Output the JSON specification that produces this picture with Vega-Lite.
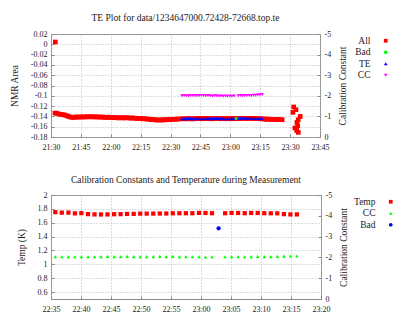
{
  "$schema": "https://vega.github.io/schema/vega-lite/v6.json",
  "padding": {"left": 8, "top": 12, "right": 0, "bottom": 0},
  "background": "white",
  "spacing": 22,
  "align": "none",
  "config": {
    "font": "Liberation Serif",
    "view": {"stroke": "#888888", "strokeWidth": 1},
    "axis": {
      "domain": false, "tickColor": "#888888", "tickSize": -3, "labelPadding": 7,
      "labelFont": "Liberation Serif", "labelFontSize": 8, "labelColor": "#222222",
      "titleFont": "Liberation Serif", "titleFontSize": 9.5, "titleFontWeight": "normal", "titleColor": "#222222",
      "gridColor": "#bbbbbb", "gridDash": [1, 2], "titlePadding": 11
    },
    "axisX": {"labelPadding": 9, "labelFlush": false},
    "legend": {
      "labelFont": "Liberation Serif", "labelFontSize": 9.5, "labelColor": "#222222", "symbolSize": 14,
      "labelAlign": "right", "labelOffset": -20, "rowPadding": 0.5, "padding": 2, "symbolStrokeWidth": 0
    },
    "title": {"font": "Liberation Serif", "fontSize": 9.5, "fontWeight": "normal", "color": "#222222"}
  },
  "resolve": {
    "scale": {"x": "independent", "y": "independent", "color": "independent", "shape": "independent"},
    "legend": {"color": "independent", "shape": "independent"}
  },
  "vconcat": [
    {
      "title": {"text": "TE Plot for data/1234647000.72428-72668.top.te", "offset": 8},
      "width": 269,
      "height": 103,
      "data": {
        "values": [
          {"t": "2009-02-14T21:32:00", "s": "All", "v": -0.1335},
          {"t": "2009-02-14T21:33:00", "s": "All", "v": -0.134},
          {"t": "2009-02-14T21:34:00", "s": "All", "v": -0.1355},
          {"t": "2009-02-14T21:35:00", "s": "All", "v": -0.136},
          {"t": "2009-02-14T21:36:00", "s": "All", "v": -0.1365},
          {"t": "2009-02-14T21:37:00", "s": "All", "v": -0.1375},
          {"t": "2009-02-14T21:38:00", "s": "All", "v": -0.139},
          {"t": "2009-02-14T21:39:00", "s": "All", "v": -0.1405},
          {"t": "2009-02-14T21:40:00", "s": "All", "v": -0.1415},
          {"t": "2009-02-14T21:41:00", "s": "All", "v": -0.142},
          {"t": "2009-02-14T21:42:00", "s": "All", "v": -0.1415},
          {"t": "2009-02-14T21:43:00", "s": "All", "v": -0.141},
          {"t": "2009-02-14T21:44:00", "s": "All", "v": -0.1415},
          {"t": "2009-02-14T21:45:00", "s": "All", "v": -0.141},
          {"t": "2009-02-14T21:46:00", "s": "All", "v": -0.141},
          {"t": "2009-02-14T21:47:00", "s": "All", "v": -0.1412},
          {"t": "2009-02-14T21:48:00", "s": "All", "v": -0.1405},
          {"t": "2009-02-14T21:49:00", "s": "All", "v": -0.141},
          {"t": "2009-02-14T21:50:00", "s": "All", "v": -0.1405},
          {"t": "2009-02-14T21:51:00", "s": "All", "v": -0.141},
          {"t": "2009-02-14T21:52:00", "s": "All", "v": -0.1408},
          {"t": "2009-02-14T21:53:00", "s": "All", "v": -0.1412},
          {"t": "2009-02-14T21:54:00", "s": "All", "v": -0.141},
          {"t": "2009-02-14T21:55:00", "s": "All", "v": -0.1415},
          {"t": "2009-02-14T21:56:00", "s": "All", "v": -0.1412},
          {"t": "2009-02-14T21:57:00", "s": "All", "v": -0.1418},
          {"t": "2009-02-14T21:58:00", "s": "All", "v": -0.142},
          {"t": "2009-02-14T21:59:00", "s": "All", "v": -0.1415},
          {"t": "2009-02-14T22:00:00", "s": "All", "v": -0.142},
          {"t": "2009-02-14T22:01:00", "s": "All", "v": -0.1425},
          {"t": "2009-02-14T22:02:00", "s": "All", "v": -0.142},
          {"t": "2009-02-14T22:03:00", "s": "All", "v": -0.1425},
          {"t": "2009-02-14T22:04:00", "s": "All", "v": -0.143},
          {"t": "2009-02-14T22:05:00", "s": "All", "v": -0.1425},
          {"t": "2009-02-14T22:06:00", "s": "All", "v": -0.1428},
          {"t": "2009-02-14T22:07:00", "s": "All", "v": -0.143},
          {"t": "2009-02-14T22:08:00", "s": "All", "v": -0.1425},
          {"t": "2009-02-14T22:09:00", "s": "All", "v": -0.143},
          {"t": "2009-02-14T22:10:00", "s": "All", "v": -0.1432},
          {"t": "2009-02-14T22:11:00", "s": "All", "v": -0.143},
          {"t": "2009-02-14T22:12:00", "s": "All", "v": -0.1435},
          {"t": "2009-02-14T22:13:00", "s": "All", "v": -0.144},
          {"t": "2009-02-14T22:14:00", "s": "All", "v": -0.1438},
          {"t": "2009-02-14T22:15:00", "s": "All", "v": -0.1442},
          {"t": "2009-02-14T22:16:00", "s": "All", "v": -0.1445},
          {"t": "2009-02-14T22:17:00", "s": "All", "v": -0.1448},
          {"t": "2009-02-14T22:18:00", "s": "All", "v": -0.145},
          {"t": "2009-02-14T22:19:00", "s": "All", "v": -0.1455},
          {"t": "2009-02-14T22:20:00", "s": "All", "v": -0.146},
          {"t": "2009-02-14T22:21:00", "s": "All", "v": -0.1462},
          {"t": "2009-02-14T22:22:00", "s": "All", "v": -0.1465},
          {"t": "2009-02-14T22:23:00", "s": "All", "v": -0.147},
          {"t": "2009-02-14T22:24:00", "s": "All", "v": -0.147},
          {"t": "2009-02-14T22:25:00", "s": "All", "v": -0.1468},
          {"t": "2009-02-14T22:26:00", "s": "All", "v": -0.147},
          {"t": "2009-02-14T22:27:00", "s": "All", "v": -0.1465},
          {"t": "2009-02-14T22:28:00", "s": "All", "v": -0.1465},
          {"t": "2009-02-14T22:29:00", "s": "All", "v": -0.146},
          {"t": "2009-02-14T22:30:00", "s": "All", "v": -0.146},
          {"t": "2009-02-14T22:31:00", "s": "All", "v": -0.1458},
          {"t": "2009-02-14T22:32:00", "s": "All", "v": -0.1455},
          {"t": "2009-02-14T22:33:00", "s": "All", "v": -0.1455},
          {"t": "2009-02-14T22:34:00", "s": "All", "v": -0.145},
          {"t": "2009-02-14T22:35:43", "s": "All", "v": -0.1448},
          {"t": "2009-02-14T22:36:48", "s": "All", "v": -0.1445},
          {"t": "2009-02-14T22:37:54", "s": "All", "v": -0.1448},
          {"t": "2009-02-14T22:38:59", "s": "All", "v": -0.1443},
          {"t": "2009-02-14T22:40:04", "s": "All", "v": -0.1446},
          {"t": "2009-02-14T22:41:10", "s": "All", "v": -0.1448},
          {"t": "2009-02-14T22:42:15", "s": "All", "v": -0.1445},
          {"t": "2009-02-14T22:43:20", "s": "All", "v": -0.1443},
          {"t": "2009-02-14T22:44:25", "s": "All", "v": -0.1441},
          {"t": "2009-02-14T22:45:31", "s": "All", "v": -0.1445},
          {"t": "2009-02-14T22:46:36", "s": "All", "v": -0.1443},
          {"t": "2009-02-14T22:47:41", "s": "All", "v": -0.1441},
          {"t": "2009-02-14T22:48:47", "s": "All", "v": -0.1443},
          {"t": "2009-02-14T22:49:52", "s": "All", "v": -0.1446},
          {"t": "2009-02-14T22:50:57", "s": "All", "v": -0.1445},
          {"t": "2009-02-14T22:52:03", "s": "All", "v": -0.1443},
          {"t": "2009-02-14T22:53:08", "s": "All", "v": -0.1441},
          {"t": "2009-02-14T22:54:13", "s": "All", "v": -0.1443},
          {"t": "2009-02-14T22:55:18", "s": "All", "v": -0.1445},
          {"t": "2009-02-14T22:56:24", "s": "All", "v": -0.1443},
          {"t": "2009-02-14T22:57:29", "s": "All", "v": -0.1446},
          {"t": "2009-02-14T22:58:34", "s": "All", "v": -0.1443},
          {"t": "2009-02-14T22:59:40", "s": "All", "v": -0.1445},
          {"t": "2009-02-14T23:00:45", "s": "All", "v": -0.1443},
          {"t": "2009-02-14T23:01:50", "s": "All", "v": -0.1445},
          {"t": "2009-02-14T23:02:56", "s": "All", "v": -0.1443},
          {"t": "2009-02-14T23:04:01", "s": "All", "v": -0.1443},
          {"t": "2009-02-14T23:05:06", "s": "All", "v": -0.1441},
          {"t": "2009-02-14T23:06:11", "s": "All", "v": -0.1439},
          {"t": "2009-02-14T23:07:17", "s": "All", "v": -0.1438},
          {"t": "2009-02-14T23:08:22", "s": "All", "v": -0.144},
          {"t": "2009-02-14T23:09:27", "s": "All", "v": -0.1438},
          {"t": "2009-02-14T23:10:33", "s": "All", "v": -0.1439},
          {"t": "2009-02-14T23:11:38", "s": "All", "v": -0.1441},
          {"t": "2009-02-14T23:12:43", "s": "All", "v": -0.1443},
          {"t": "2009-02-14T23:13:49", "s": "All", "v": -0.1443},
          {"t": "2009-02-14T23:14:54", "s": "All", "v": -0.1445},
          {"t": "2009-02-14T23:15:59", "s": "All", "v": -0.1446},
          {"t": "2009-02-14T23:17:00", "s": "All", "v": -0.1452},
          {"t": "2009-02-14T23:18:00", "s": "All", "v": -0.1455},
          {"t": "2009-02-14T23:19:00", "s": "All", "v": -0.1453},
          {"t": "2009-02-14T23:20:00", "s": "All", "v": -0.1456},
          {"t": "2009-02-14T23:21:00", "s": "All", "v": -0.1458},
          {"t": "2009-02-14T23:22:00", "s": "All", "v": -0.1457},
          {"t": "2009-02-14T23:23:00", "s": "All", "v": -0.146},
          {"t": "2009-02-14T23:24:00", "s": "All", "v": -0.146},
          {"t": "2009-02-14T23:25:00", "s": "All", "v": -0.1462},
          {"t": "2009-02-14T23:26:00", "s": "All", "v": -0.1465},
          {"t": "2009-02-14T23:31:47", "s": "All", "v": -0.1217},
          {"t": "2009-02-14T23:32:55", "s": "All", "v": -0.127},
          {"t": "2009-02-14T23:31:25", "s": "All", "v": -0.1322},
          {"t": "2009-02-14T23:35:05", "s": "All", "v": -0.14},
          {"t": "2009-02-14T23:34:05", "s": "All", "v": -0.1464},
          {"t": "2009-02-14T23:33:25", "s": "All", "v": -0.1517},
          {"t": "2009-02-14T23:33:47", "s": "All", "v": -0.158},
          {"t": "2009-02-14T23:32:25", "s": "All", "v": -0.1625},
          {"t": "2009-02-14T23:33:17", "s": "All", "v": -0.1672},
          {"t": "2009-02-14T23:34:05", "s": "All", "v": -0.171},
          {"t": "2009-02-14T21:32:10", "s": "All", "v": 0.0045},
          {"t": "2009-02-14T22:35:43", "s": "TE", "v": -0.1445},
          {"t": "2009-02-14T22:36:48", "s": "TE", "v": -0.1442},
          {"t": "2009-02-14T22:37:54", "s": "TE", "v": -0.1445},
          {"t": "2009-02-14T22:38:59", "s": "TE", "v": -0.144},
          {"t": "2009-02-14T22:40:04", "s": "TE", "v": -0.1443},
          {"t": "2009-02-14T22:41:10", "s": "TE", "v": -0.1445},
          {"t": "2009-02-14T22:42:15", "s": "TE", "v": -0.1442},
          {"t": "2009-02-14T22:43:20", "s": "TE", "v": -0.144},
          {"t": "2009-02-14T22:44:25", "s": "TE", "v": -0.1438},
          {"t": "2009-02-14T22:45:31", "s": "TE", "v": -0.1442},
          {"t": "2009-02-14T22:46:36", "s": "TE", "v": -0.144},
          {"t": "2009-02-14T22:47:41", "s": "TE", "v": -0.1438},
          {"t": "2009-02-14T22:48:47", "s": "TE", "v": -0.144},
          {"t": "2009-02-14T22:49:52", "s": "TE", "v": -0.1443},
          {"t": "2009-02-14T22:50:57", "s": "TE", "v": -0.1442},
          {"t": "2009-02-14T22:52:03", "s": "TE", "v": -0.144},
          {"t": "2009-02-14T22:53:08", "s": "TE", "v": -0.1438},
          {"t": "2009-02-14T22:54:13", "s": "TE", "v": -0.144},
          {"t": "2009-02-14T22:55:18", "s": "TE", "v": -0.1442},
          {"t": "2009-02-14T22:56:24", "s": "TE", "v": -0.144},
          {"t": "2009-02-14T22:57:29", "s": "TE", "v": -0.1443},
          {"t": "2009-02-14T22:58:34", "s": "TE", "v": -0.144},
          {"t": "2009-02-14T22:59:40", "s": "TE", "v": -0.1442},
          {"t": "2009-02-14T23:00:45", "s": "TE", "v": -0.144},
          {"t": "2009-02-14T23:01:50", "s": "TE", "v": -0.1442},
          {"t": "2009-02-14T23:04:01", "s": "TE", "v": -0.144},
          {"t": "2009-02-14T23:05:06", "s": "TE", "v": -0.1438},
          {"t": "2009-02-14T23:06:11", "s": "TE", "v": -0.1436},
          {"t": "2009-02-14T23:07:17", "s": "TE", "v": -0.1435},
          {"t": "2009-02-14T23:08:22", "s": "TE", "v": -0.1437},
          {"t": "2009-02-14T23:09:27", "s": "TE", "v": -0.1435},
          {"t": "2009-02-14T23:10:33", "s": "TE", "v": -0.1436},
          {"t": "2009-02-14T23:11:38", "s": "TE", "v": -0.1438},
          {"t": "2009-02-14T23:12:43", "s": "TE", "v": -0.144},
          {"t": "2009-02-14T23:13:49", "s": "TE", "v": -0.144},
          {"t": "2009-02-14T23:14:54", "s": "TE", "v": -0.1442},
          {"t": "2009-02-14T23:15:59", "s": "TE", "v": -0.1443},
          {"t": "2009-02-14T23:02:56", "s": "Bad", "v": -0.144},
          {"t": "2009-02-14T22:35:43", "s": "CC", "v": -2.0},
          {"t": "2009-02-14T22:36:48", "s": "CC", "v": -2.01},
          {"t": "2009-02-14T22:37:54", "s": "CC", "v": -2.0},
          {"t": "2009-02-14T22:38:59", "s": "CC", "v": -2.0},
          {"t": "2009-02-14T22:40:04", "s": "CC", "v": -2.01},
          {"t": "2009-02-14T22:41:10", "s": "CC", "v": -2.02},
          {"t": "2009-02-14T22:42:15", "s": "CC", "v": -2.01},
          {"t": "2009-02-14T22:43:20", "s": "CC", "v": -2.0},
          {"t": "2009-02-14T22:44:25", "s": "CC", "v": -2.02},
          {"t": "2009-02-14T22:45:31", "s": "CC", "v": -2.02},
          {"t": "2009-02-14T22:46:36", "s": "CC", "v": -2.01},
          {"t": "2009-02-14T22:47:41", "s": "CC", "v": -2.0},
          {"t": "2009-02-14T22:48:47", "s": "CC", "v": -2.01},
          {"t": "2009-02-14T22:49:52", "s": "CC", "v": -2.0},
          {"t": "2009-02-14T22:50:57", "s": "CC", "v": -1.99},
          {"t": "2009-02-14T22:52:03", "s": "CC", "v": -2.0},
          {"t": "2009-02-14T22:53:08", "s": "CC", "v": -2.0},
          {"t": "2009-02-14T22:54:13", "s": "CC", "v": -1.99},
          {"t": "2009-02-14T22:55:18", "s": "CC", "v": -1.99},
          {"t": "2009-02-14T22:56:24", "s": "CC", "v": -1.98},
          {"t": "2009-02-14T22:57:29", "s": "CC", "v": -1.99},
          {"t": "2009-02-14T22:58:34", "s": "CC", "v": -1.98},
          {"t": "2009-02-14T22:59:40", "s": "CC", "v": -1.99},
          {"t": "2009-02-14T23:00:45", "s": "CC", "v": -1.98},
          {"t": "2009-02-14T23:01:50", "s": "CC", "v": -1.99},
          {"t": "2009-02-14T23:04:01", "s": "CC", "v": -2.0},
          {"t": "2009-02-14T23:05:06", "s": "CC", "v": -2.01},
          {"t": "2009-02-14T23:06:11", "s": "CC", "v": -2.0},
          {"t": "2009-02-14T23:07:17", "s": "CC", "v": -2.01},
          {"t": "2009-02-14T23:08:22", "s": "CC", "v": -2.02},
          {"t": "2009-02-14T23:09:27", "s": "CC", "v": -2.01},
          {"t": "2009-02-14T23:10:33", "s": "CC", "v": -2.02},
          {"t": "2009-02-14T23:11:38", "s": "CC", "v": -2.03},
          {"t": "2009-02-14T23:12:43", "s": "CC", "v": -2.03},
          {"t": "2009-02-14T23:13:49", "s": "CC", "v": -2.04},
          {"t": "2009-02-14T23:14:54", "s": "CC", "v": -2.05},
          {"t": "2009-02-14T23:15:59", "s": "CC", "v": -2.06}
        ]
      },
      "encoding": {
        "x": {
          "field": "t", "type": "temporal",
          "scale": {"domain": [{"year": 2009, "month": 2, "date": 14, "hours": 21, "minutes": 30}, {"year": 2009, "month": 2, "date": 14, "hours": 23, "minutes": 45}], "nice": false},
          "axis": {"title": null, "format": "%H:%M", "grid": true, "values": [
            {"year": 2009, "month": 2, "date": 14, "hours": 21, "minutes": 30},
            {"year": 2009, "month": 2, "date": 14, "hours": 21, "minutes": 45},
            {"year": 2009, "month": 2, "date": 14, "hours": 22, "minutes": 0},
            {"year": 2009, "month": 2, "date": 14, "hours": 22, "minutes": 15},
            {"year": 2009, "month": 2, "date": 14, "hours": 22, "minutes": 30},
            {"year": 2009, "month": 2, "date": 14, "hours": 22, "minutes": 45},
            {"year": 2009, "month": 2, "date": 14, "hours": 23, "minutes": 0},
            {"year": 2009, "month": 2, "date": 14, "hours": 23, "minutes": 15},
            {"year": 2009, "month": 2, "date": 14, "hours": 23, "minutes": 30},
            {"year": 2009, "month": 2, "date": 14, "hours": 23, "minutes": 45}
          ]}
        },
        "color": {"field": "s", "type": "nominal", "scale": {"domain": ["All", "Bad", "TE", "CC"], "range": ["#ff0000", "#00ff00", "#0000ff", "#ff00ff"]}, "legend": {"title": null, "offset": 31}},
        "shape": {"field": "s", "type": "nominal", "scale": {"domain": ["All", "Bad", "TE", "CC"], "range": ["square", "circle", "triangle-up", "triangle-down"]}, "legend": {"title": null, "offset": 31}}
      },
      "layer": [
        {
          "layer": [
            {"transform": [{"filter": "datum.s === 'All'"}], "mark": {"type": "point", "filled": true, "opacity": 1, "size": 22}},
            {"transform": [{"filter": "datum.s === 'TE'"}], "mark": {"type": "point", "filled": true, "opacity": 1, "size": 14}},
            {"transform": [{"filter": "datum.s === 'Bad'"}], "mark": {"type": "point", "filled": true, "opacity": 1, "size": 10}}
          ],
          "encoding": {
            "y": {
              "field": "v", "type": "quantitative",
              "scale": {"domain": [-0.18, 0.02], "nice": false, "zero": false},
              "axis": {"title": "NMR Area", "values": [-0.18, -0.16, -0.14, -0.12, -0.1, -0.08, -0.06, -0.04, -0.02, 0, 0.02], "labelExpr": "toString(round(datum.value*100)/100)", "grid": true}
            }
          }
        },
        {
          "transform": [{"filter": "datum.s === 'CC'"}],
          "mark": {"type": "point", "filled": true, "opacity": 1, "size": 12},
          "encoding": {
            "y": {
              "field": "v", "type": "quantitative",
              "scale": {"domain": [0, -5], "nice": false, "zero": false},
              "axis": {"orient": "right", "title": "Calibration Constant", "titleAngle": 270, "titleBaseline": "top", "titlePadding": 7, "values": [0, -1, -2, -3, -4, -5], "labelExpr": "toString(datum.value)", "grid": false}
            }
          }
        }
      ],
      "resolve": {"scale": {"y": "independent"}}
    },
    {
      "title": {"text": "Calibration Constants and Temperature during Measurement", "offset": 7},
      "width": 270,
      "height": 104,
      "data": {
        "values": [
          {"t": "2009-02-14T22:35:43", "s": "Temp", "v": 1.752},
          {"t": "2009-02-14T22:36:48", "s": "Temp", "v": 1.745},
          {"t": "2009-02-14T22:37:54", "s": "Temp", "v": 1.746},
          {"t": "2009-02-14T22:38:59", "s": "Temp", "v": 1.735},
          {"t": "2009-02-14T22:40:04", "s": "Temp", "v": 1.738},
          {"t": "2009-02-14T22:41:10", "s": "Temp", "v": 1.724},
          {"t": "2009-02-14T22:42:15", "s": "Temp", "v": 1.72},
          {"t": "2009-02-14T22:43:20", "s": "Temp", "v": 1.719},
          {"t": "2009-02-14T22:44:25", "s": "Temp", "v": 1.72},
          {"t": "2009-02-14T22:45:31", "s": "Temp", "v": 1.723},
          {"t": "2009-02-14T22:46:36", "s": "Temp", "v": 1.724},
          {"t": "2009-02-14T22:47:41", "s": "Temp", "v": 1.727},
          {"t": "2009-02-14T22:48:47", "s": "Temp", "v": 1.728},
          {"t": "2009-02-14T22:49:52", "s": "Temp", "v": 1.731},
          {"t": "2009-02-14T22:50:57", "s": "Temp", "v": 1.732},
          {"t": "2009-02-14T22:52:03", "s": "Temp", "v": 1.732},
          {"t": "2009-02-14T22:53:08", "s": "Temp", "v": 1.733},
          {"t": "2009-02-14T22:54:13", "s": "Temp", "v": 1.733},
          {"t": "2009-02-14T22:55:18", "s": "Temp", "v": 1.736},
          {"t": "2009-02-14T22:56:24", "s": "Temp", "v": 1.737},
          {"t": "2009-02-14T22:57:29", "s": "Temp", "v": 1.737},
          {"t": "2009-02-14T22:58:34", "s": "Temp", "v": 1.737},
          {"t": "2009-02-14T22:59:40", "s": "Temp", "v": 1.742},
          {"t": "2009-02-14T23:00:45", "s": "Temp", "v": 1.741},
          {"t": "2009-02-14T23:01:50", "s": "Temp", "v": 1.737},
          {"t": "2009-02-14T23:04:01", "s": "Temp", "v": 1.737},
          {"t": "2009-02-14T23:05:06", "s": "Temp", "v": 1.741},
          {"t": "2009-02-14T23:06:11", "s": "Temp", "v": 1.741},
          {"t": "2009-02-14T23:07:17", "s": "Temp", "v": 1.737},
          {"t": "2009-02-14T23:08:22", "s": "Temp", "v": 1.741},
          {"t": "2009-02-14T23:09:27", "s": "Temp", "v": 1.741},
          {"t": "2009-02-14T23:10:33", "s": "Temp", "v": 1.737},
          {"t": "2009-02-14T23:11:38", "s": "Temp", "v": 1.736},
          {"t": "2009-02-14T23:12:43", "s": "Temp", "v": 1.736},
          {"t": "2009-02-14T23:13:49", "s": "Temp", "v": 1.724},
          {"t": "2009-02-14T23:14:54", "s": "Temp", "v": 1.72},
          {"t": "2009-02-14T23:15:59", "s": "Temp", "v": 1.72},
          {"t": "2009-02-14T23:02:56", "s": "Bad", "v": 1.519},
          {"t": "2009-02-14T22:35:43", "s": "CC", "v": -2.03},
          {"t": "2009-02-14T22:36:48", "s": "CC", "v": -2.03},
          {"t": "2009-02-14T22:37:54", "s": "CC", "v": -2.03},
          {"t": "2009-02-14T22:38:59", "s": "CC", "v": -2.03},
          {"t": "2009-02-14T22:40:04", "s": "CC", "v": -2.03},
          {"t": "2009-02-14T22:41:10", "s": "CC", "v": -2.03},
          {"t": "2009-02-14T22:42:15", "s": "CC", "v": -2.03},
          {"t": "2009-02-14T22:43:20", "s": "CC", "v": -2.04},
          {"t": "2009-02-14T22:44:25", "s": "CC", "v": -2.05},
          {"t": "2009-02-14T22:45:31", "s": "CC", "v": -2.04},
          {"t": "2009-02-14T22:46:36", "s": "CC", "v": -2.04},
          {"t": "2009-02-14T22:47:41", "s": "CC", "v": -2.05},
          {"t": "2009-02-14T22:48:47", "s": "CC", "v": -2.04},
          {"t": "2009-02-14T22:49:52", "s": "CC", "v": -2.04},
          {"t": "2009-02-14T22:50:57", "s": "CC", "v": -2.04},
          {"t": "2009-02-14T22:52:03", "s": "CC", "v": -2.04},
          {"t": "2009-02-14T22:53:08", "s": "CC", "v": -2.05},
          {"t": "2009-02-14T22:54:13", "s": "CC", "v": -2.04},
          {"t": "2009-02-14T22:55:18", "s": "CC", "v": -2.05},
          {"t": "2009-02-14T22:56:24", "s": "CC", "v": -2.03},
          {"t": "2009-02-14T22:57:29", "s": "CC", "v": -2.03},
          {"t": "2009-02-14T22:58:34", "s": "CC", "v": -2.03},
          {"t": "2009-02-14T22:59:40", "s": "CC", "v": -2.03},
          {"t": "2009-02-14T23:00:45", "s": "CC", "v": -2.02},
          {"t": "2009-02-14T23:01:50", "s": "CC", "v": -2.03},
          {"t": "2009-02-14T23:04:01", "s": "CC", "v": -2.03},
          {"t": "2009-02-14T23:05:06", "s": "CC", "v": -2.03},
          {"t": "2009-02-14T23:06:11", "s": "CC", "v": -2.04},
          {"t": "2009-02-14T23:07:17", "s": "CC", "v": -2.03},
          {"t": "2009-02-14T23:08:22", "s": "CC", "v": -2.04},
          {"t": "2009-02-14T23:09:27", "s": "CC", "v": -2.05},
          {"t": "2009-02-14T23:10:33", "s": "CC", "v": -2.04},
          {"t": "2009-02-14T23:11:38", "s": "CC", "v": -2.03},
          {"t": "2009-02-14T23:12:43", "s": "CC", "v": -2.05},
          {"t": "2009-02-14T23:13:49", "s": "CC", "v": -2.06},
          {"t": "2009-02-14T23:14:54", "s": "CC", "v": -2.07},
          {"t": "2009-02-14T23:15:59", "s": "CC", "v": -2.07}
        ]
      },
      "encoding": {
        "x": {
          "field": "t", "type": "temporal",
          "scale": {"domain": [{"year": 2009, "month": 2, "date": 14, "hours": 22, "minutes": 35}, {"year": 2009, "month": 2, "date": 14, "hours": 23, "minutes": 20}], "nice": false},
          "axis": {"title": null, "format": "%H:%M", "grid": true, "values": [
            {"year": 2009, "month": 2, "date": 14, "hours": 22, "minutes": 35},
            {"year": 2009, "month": 2, "date": 14, "hours": 22, "minutes": 40},
            {"year": 2009, "month": 2, "date": 14, "hours": 22, "minutes": 45},
            {"year": 2009, "month": 2, "date": 14, "hours": 22, "minutes": 50},
            {"year": 2009, "month": 2, "date": 14, "hours": 22, "minutes": 55},
            {"year": 2009, "month": 2, "date": 14, "hours": 23, "minutes": 0},
            {"year": 2009, "month": 2, "date": 14, "hours": 23, "minutes": 5},
            {"year": 2009, "month": 2, "date": 14, "hours": 23, "minutes": 10},
            {"year": 2009, "month": 2, "date": 14, "hours": 23, "minutes": 15},
            {"year": 2009, "month": 2, "date": 14, "hours": 23, "minutes": 20}
          ]}
        },
        "color": {"field": "s", "type": "nominal", "scale": {"domain": ["Temp", "CC", "Bad"], "range": ["#ff0000", "#00ff00", "#0000ff"]}, "legend": {"title": null, "offset": 35}},
        "shape": {"field": "s", "type": "nominal", "scale": {"domain": ["Temp", "CC", "Bad"], "range": ["square", "triangle-up", "circle"]}, "legend": {"title": null, "offset": 35}}
      },
      "layer": [
        {
          "layer": [
            {"transform": [{"filter": "datum.s === 'Temp'"}], "mark": {"type": "point", "filled": true, "opacity": 1, "size": 18}},
            {"transform": [{"filter": "datum.s === 'Bad'"}], "mark": {"type": "point", "filled": true, "opacity": 1, "size": 18}}
          ],
          "encoding": {
            "y": {
              "field": "v", "type": "quantitative",
              "scale": {"domain": [0.5, 2], "nice": false, "zero": false},
              "axis": {"title": "Temp (K)", "values": [0.6, 0.8, 1, 1.2, 1.4, 1.6, 1.8, 2], "labelExpr": "toString(round(datum.value*10)/10)", "grid": true}
            }
          }
        },
        {
          "transform": [{"filter": "datum.s === 'CC'"}],
          "mark": {"type": "point", "filled": true, "opacity": 1, "size": 13},
          "encoding": {
            "y": {
              "field": "v", "type": "quantitative",
              "scale": {"domain": [0, -5], "nice": false, "zero": false},
              "axis": {"orient": "right", "title": "Calibration Constant", "titleAngle": 270, "titleBaseline": "top", "titlePadding": 7, "values": [0, -1, -2, -3, -4, -5], "labelExpr": "toString(datum.value)", "grid": false}
            }
          }
        }
      ],
      "resolve": {"scale": {"y": "independent"}}
    }
  ]
}
